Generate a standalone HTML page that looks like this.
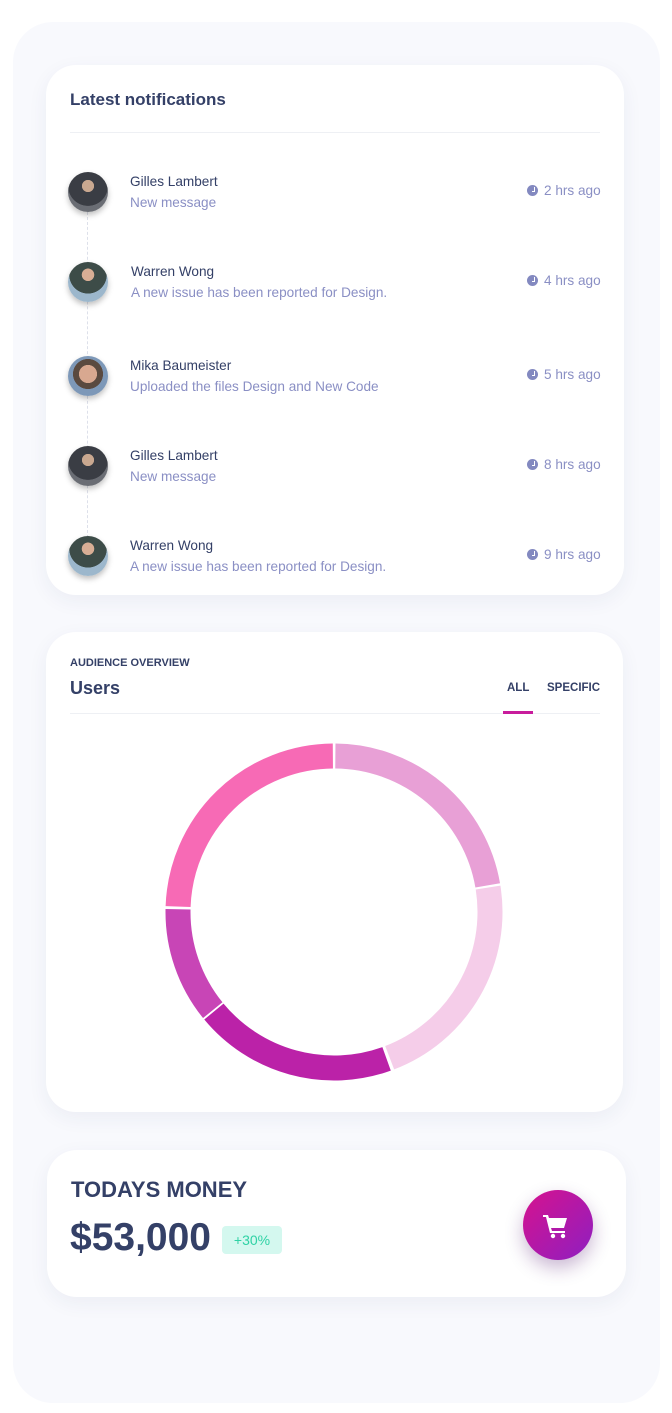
<!DOCTYPE html>
<html><head><meta charset="utf-8"><style>
*{margin:0;padding:0;box-sizing:border-box}
body{width:672px;height:1413px;background:#fff;font-family:"Liberation Sans",sans-serif;position:relative;overflow:hidden}
.panel{position:absolute;left:13px;top:22px;width:647px;height:1381px;background:#f8f9fd;border-radius:40px}
.card{position:absolute;background:#fff;border-radius:30px;box-shadow:0 6px 20px rgba(40,50,110,0.06)}
.t{position:absolute;white-space:nowrap}
.av{position:absolute;left:68px;width:40px;height:40px;border-radius:50%;box-shadow:0 3px 6px rgba(0,0,0,0.25);overflow:hidden}
.name{font-size:13.6px;color:#344067}
.msg{font-size:13.6px;color:#8a8fc4}
.time{font-size:13.6px;color:#8a8fc4}
.clk{display:inline-block;width:11px;height:11px;border-radius:50%;background:#8389c0;vertical-align:-1px;margin-right:6px;position:relative}
.clk:after{content:"";position:absolute;left:5px;top:2px;width:2px;height:4px;border-right:1.5px solid #fff;border-bottom:1.5px solid #fff}
</style></head><body>
<div class="panel"></div>

<div class="card" style="left:46px;top:65px;width:578px;height:530px"></div>
<div class="t" style="left:70px;top:90px;font-size:17px;font-weight:bold;color:#344067">Latest notifications</div>
<div style="position:absolute;left:70px;top:132px;width:530px;height:1px;background:#eef0f4"></div>
<div style="position:absolute;left:87px;top:212px;width:0;height:326px;border-left:1px dashed #dde0ea"></div>

<div class="av" style="top:172px;background:radial-gradient(circle at 50% 35%,#c9a890 0 18%,#3a3d44 19% 60%,#6a6d74 61%)"></div>
<div class="t name" style="left:130px;top:174px">Gilles Lambert</div>
<div class="t msg" style="left:130px;top:195px">New message</div>
<div class="t time" style="left:527px;top:183px"><span class="clk"></span>2 hrs ago</div>

<div class="av" style="top:262px;background:radial-gradient(circle at 50% 32%,#d8ae95 0 18%,#3d4c48 19% 55%,#9cb7cc 56%)"></div>
<div class="t name" style="left:131px;top:264px">Warren Wong</div>
<div class="t msg" style="left:131px;top:285px">A new issue has been reported for Design.</div>
<div class="t time" style="left:527px;top:273px"><span class="clk"></span>4 hrs ago</div>

<div class="av" style="top:356px;background:radial-gradient(circle at 50% 45%,#d8a890 0 30%,#5a4a40 31% 50%,#7d98b8 51%)"></div>
<div class="t name" style="left:130px;top:358px">Mika Baumeister</div>
<div class="t msg" style="left:130px;top:379px">Uploaded the files Design and New Code</div>
<div class="t time" style="left:527px;top:367px"><span class="clk"></span>5 hrs ago</div>

<div class="av" style="top:446px;background:radial-gradient(circle at 50% 35%,#c9a890 0 18%,#3a3d44 19% 60%,#6a6d74 61%)"></div>
<div class="t name" style="left:130px;top:448px">Gilles Lambert</div>
<div class="t msg" style="left:130px;top:469px">New message</div>
<div class="t time" style="left:527px;top:457px"><span class="clk"></span>8 hrs ago</div>

<div class="av" style="top:536px;background:radial-gradient(circle at 50% 32%,#d8ae95 0 18%,#3d4c48 19% 55%,#9cb7cc 56%)"></div>
<div class="t name" style="left:130px;top:538px">Warren Wong</div>
<div class="t msg" style="left:130px;top:559px">A new issue has been reported for Design.</div>
<div class="t time" style="left:527px;top:547px"><span class="clk"></span>9 hrs ago</div>

<div class="card" style="left:46px;top:632px;width:577px;height:480px"></div>
<div class="t" style="left:70px;top:657px;font-size:11px;font-weight:bold;color:#344067">AUDIENCE OVERVIEW</div>
<div class="t" style="left:70px;top:678px;font-size:18px;font-weight:bold;color:#344067">Users</div>
<div class="t" style="left:507px;top:682px;font-size:11.5px;font-weight:bold;color:#344067">ALL</div>
<div class="t" style="left:547px;top:682px;font-size:11.5px;font-weight:bold;color:#344067">SPECIFIC</div>
<div style="position:absolute;left:70px;top:713px;width:530px;height:1px;background:#eef0f4"></div>
<div style="position:absolute;left:503px;top:711px;width:30px;height:3px;background:#c81c9c"></div>

<svg style="position:absolute;left:0;top:0" width="672" height="1413">
<g fill="none" stroke-width="25">
<circle cx="334" cy="912" r="156" stroke="#e8a0d6" stroke-dasharray="216.8 2000" transform="rotate(-89.5 334 912)"/>
<circle cx="334" cy="912" r="156" stroke="#f5cde9" stroke-dasharray="212.5 2000" transform="rotate(-9 334 912)"/>
<circle cx="334" cy="912" r="156" stroke="#bb22a8" stroke-dasharray="190.6 2000" transform="rotate(70.3 334 912)"/>
<circle cx="334" cy="912" r="156" stroke="#c845b6" stroke-dasharray="108.9 2000" transform="rotate(141 334 912)"/>
<circle cx="334" cy="912" r="156" stroke="#f76ab5" stroke-dasharray="238.3 2000" transform="rotate(182 334 912)"/>
</g></svg>

<div class="card" style="left:47px;top:1150px;width:579px;height:147px"></div>
<div class="t" style="left:71px;top:1177px;font-size:22px;font-weight:bold;color:#344067">TODAYS MONEY</div>
<div class="t" style="left:70px;top:1216px;font-size:39px;font-weight:bold;color:#344067">$53,000</div>
<div class="t" style="left:222px;top:1226px;width:60px;height:28px;background:#d4f8ef;border-radius:4px;font-size:14px;color:#2fd2a5;text-align:center;line-height:28px">+30%</div>
<div style="position:absolute;left:523px;top:1190px;width:70px;height:70px;border-radius:50%;background:linear-gradient(135deg,#d6128e,#8e1fc1);box-shadow:0 8px 18px rgba(80,20,110,0.3)">
<svg width="70" height="70" viewBox="0 0 70 70"><g fill="#fff"><path d="M20 25h5l1 3h18l-3 10H28l1 3h13v2H27l-4-16h-3z"/><circle cx="30" cy="46" r="2.2"/><circle cx="40" cy="46" r="2.2"/></g></svg></div>
</body></html>
